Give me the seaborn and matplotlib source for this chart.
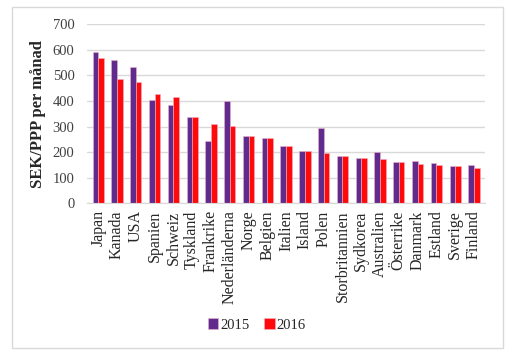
import pandas as pd
import seaborn as sns
import matplotlib
matplotlib.use('Agg')
import matplotlib.pyplot as plt
from matplotlib.patches import Rectangle

# data
countries = ['Japan', 'Kanada', 'USA', 'Spanien', 'Schweiz', 'Tyskland', 'Frankrike',
             'Nederländerna', 'Norge', 'Belgien', 'Italien', 'Island', 'Polen',
             'Storbritannien', 'Sydkorea', 'Australien', 'Österrike', 'Danmark',
             'Estland', 'Sverige', 'Finland']
v2015 = [592, 559, 533, 403, 383, 339, 244, 399, 263, 257, 224, 205, 294, 186, 177, 202, 163, 164, 158, 147, 150]
v2016 = [567, 485, 473, 426, 417, 339, 309, 304, 262, 257, 224, 205, 196, 186, 177, 173, 163, 154, 150, 147, 139]
years = ['2015', '2016']

df = pd.DataFrame({'land': countries * 2,
                   'värde': v2015 + v2016,
                   'år': [years[0]] * len(countries) + [years[1]] * len(countries)})

sns.set_style('white')
plt.rcParams['font.family'] = ['Liberation Serif', 'DejaVu Serif']

fig = plt.figure(figsize=(5.24, 3.6), dpi=100)
ax = fig.add_axes([0.166, 0.435, 0.76, 0.498])

# ram runt diagrammet
fig.patches.append(Rectangle((12 / 524, 1 - 348 / 360), (503 - 12) / 524, (348 - 7) / 360,
                             transform=fig.transFigure, fill=False, edgecolor='#d9d9d9', lw=1))

sns.barplot(data=df, x='land', y='värde', hue='år', palette=['#5f2b8c', '#ff0a0a'],
            width=0.6, gap=0, saturation=1, edgecolor='#f0b0c8', linewidth=0.4, ax=ax)

ax.set_ylim(0, 700)
ax.set_yticks(range(0, 701, 100))
ax.set_xlim(-0.6, len(countries) - 0.4)
ax.yaxis.grid(True, color='#d9d9d9', lw=1)
ax.set_axisbelow(True)
for s in ['top', 'right', 'left']:
    ax.spines[s].set_visible(False)
ax.spines['bottom'].set_color('#d9d9d9')
ax.tick_params(axis='y', length=0, labelsize=10.5, colors='#404040', pad=9)
ax.tick_params(axis='x', length=0, labelsize=11.5, labelrotation=90, pad=5, colors='#262626')
ax.set_xlabel('')
ax.set_ylabel('SEK/PPP per månad', fontsize=12, fontweight='bold', color='#262626', labelpad=5)

leg = ax.legend(loc='center', bbox_to_anchor=(257 / 524, 1 - 325 / 360), bbox_transform=fig.transFigure,
                ncol=2, frameon=False, fontsize=10.5, handlelength=0.7, handleheight=0.7,
                handletextpad=0.15, columnspacing=1.0)
for t in leg.get_texts():
    t.set_color('#262626')

fig.savefig('out.png', dpi=100)
